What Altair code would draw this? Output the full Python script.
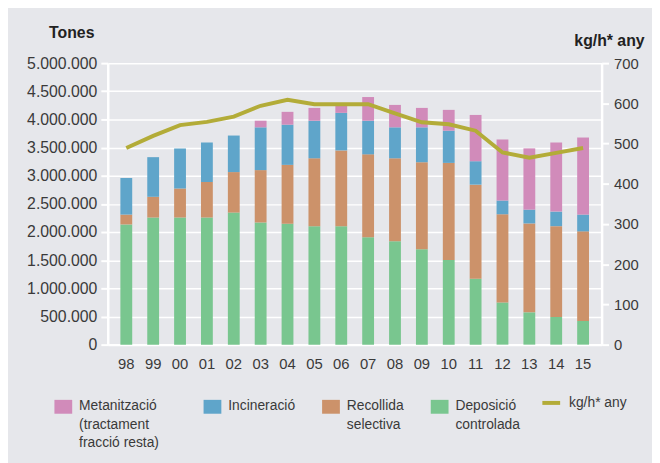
import altair as alt
import pandas as pd

years = ["98", "99", "00", "01", "02", "03", "04", "05", "06", "07", "08", "09",
         "10", "11", "12", "13", "14", "15"]
deposicio = [2135000, 2258000, 2258000, 2258000, 2346000, 2170000, 2147000, 2105000, 2105000,
             1907000, 1837000, 1696000, 1503000, 1170000, 749000, 574000, 491000, 420000]
recollida = [175000, 368000, 514000, 632000, 719000, 930000, 1046000, 1205000, 1345000,
             1473000, 1473000, 1544000, 1725000, 1672000, 1567000, 1579000, 1614000, 1592000]
incineracio = [650000, 704000, 714000, 700000, 649000, 760000, 714000, 667000, 667000,
               597000, 550000, 620000, 572000, 416000, 244000, 245000, 258000, 298000]
metanitzacio = [0, 0, 0, 0, 0, 117000, 228000, 228000, 140000,
                421000, 398000, 345000, 370000, 822000, 1084000, 1088000, 1227000, 1369000]
kg_hab = [489, 519, 546, 554, 567, 594, 609, 598, 598, 598, 575, 553, 548, 532, 478, 465, 477, 489]

cats_low = ["Incineració", "Recollida selectiva", "Deposició controlada"]
colors_low = ["#5fa5ca", "#cc926a", "#79c68f"]
cat_top = "Metanització"
color_top = "#d18bba"
line_name = "kg/h* any"
line_color = "#b3ac38"

series = {
    "Deposició controlada": deposicio,
    "Recollida selectiva": recollida,
    "Incineració": incineracio,
    "Metanització": metanitzacio,
}
stack_order = {"Deposició controlada": 0, "Recollida selectiva": 1, "Incineració": 2, "Metanització": 3}
rows = []
for cat, vals in series.items():
    for y, v in zip(years, vals):
        rows.append({"any": y, "cat": cat, "tones": v, "ord": stack_order[cat]})
bars_df = pd.DataFrame(rows)
line_df = pd.DataFrame({"any": years, "kg": kg_hab, "s": [line_name] * len(years)})

FONT = "Liberation Sans"
TXT = "#3a3a3a"
LEG_FS = 14

xenc = alt.X("any:N", sort=years, title=None,
             scale=alt.Scale(paddingInner=0.56, paddingOuter=0.47),
             axis=alt.Axis(labelAngle=0, ticks=False, labelPadding=12, domainColor="white",
                           domainWidth=2.5, labelFontSize=15, labelColor=TXT, labelFont=FONT))

yaxis = alt.Axis(values=list(range(0, 5000001, 500000)), title="Tones",
                 titleAngle=0, titleAlign="right", titleBaseline="middle",
                 titleX=-14, titleY=-31, titleFontSize=16, titleFontWeight="bold",
                 titleColor="#222222", titleFont=FONT,
                 labelExpr="replace(format(datum.value, ','), regexp(',', 'g'), '.')",
                 labelFontSize=16, labelColor=TXT, labelFont=FONT, labelPadding=4,
                 domainColor="white", domainWidth=2.5, tickColor="white", tickWidth=2,
                 tickSize=7, grid=True, gridColor="white", gridWidth=1.5)
yscale = alt.Scale(domain=[0, 5000000], nice=False)

label_expr = ("datum.label == 'Metanització' ? ['Metanització', '(tractament', 'fracció resta)'] : "
              "datum.label == 'Recollida selectiva' ? ['Recollida', 'selectiva', ''] : "
              "datum.label == 'Deposició controlada' ? ['Deposició', 'controlada', ''] : "
              "[datum.label, '', '']")


def leg(x, y, pad=27):
    return alt.Legend(title=None, orient="none", legendX=x, legendY=y,
                      direction="horizontal",
                      symbolType="M-1,0.1H1V1.66H-1Z",
                      symbolSize=324, symbolStrokeWidth=0, symbolOpacity=1,
                      labelExpr=label_expr, labelFontSize=LEG_FS, labelColor=TXT,
                      labelFont=FONT, labelBaseline="top", labelOffset=7,
                      columnPadding=pad, labelLimit=300)


bars_low = alt.Chart(bars_df).transform_filter("datum.ord < 3").mark_bar().encode(
    x=xenc,
    y=alt.Y("tones:Q", stack="zero", scale=yscale, axis=yaxis, title="Tones"),
    color=alt.Color("cat:N", scale=alt.Scale(domain=cats_low, range=colors_low),
                    legend=leg(97, 331)),
    order=alt.Order("ord:Q", sort="ascending"),
)

bars_top = alt.Chart(bars_df).transform_calculate(
    lower="datum.ord < 3 ? datum.tones : 0"
).transform_joinaggregate(
    base="sum(lower)", groupby=["any"]
).transform_filter(
    "datum.ord == 3"
).transform_calculate(
    top="datum.base + datum.tones"
).mark_bar().encode(
    x=xenc,
    y=alt.Y("base:Q", scale=yscale, axis=yaxis, title="Tones"),
    y2="top:Q",
    color=alt.Color("cat:N", scale=alt.Scale(domain=[cat_top], range=[color_top]),
                    legend=leg(-54, 331)),
)

bars = alt.layer(bars_low, bars_top).resolve_scale(color="independent")

line = alt.Chart(line_df).mark_line(strokeWidth=4).encode(
    x=xenc,
    y=alt.Y("kg:Q", scale=alt.Scale(domain=[0, 700], nice=False),
            axis=alt.Axis(orient="right", values=list(range(0, 701, 100)), title=line_name,
                          titleAngle=0, titleAlign="right", titleBaseline="middle",
                          titleX=43, titleY=-23, titleFontSize=16, titleFontWeight="bold",
                          titleColor="#222222", titleFont=FONT,
                          labelFontSize=15, labelColor=TXT, labelFont=FONT, labelPadding=5,
                          domainColor="white", domainWidth=2.5, tickColor="white", tickWidth=2,
                          tickSize=7, grid=False)),
    stroke=alt.Stroke("s:N", scale=alt.Scale(domain=[line_name], range=[line_color]),
                      legend=alt.Legend(title=None, orient="none", legendX=438, legendY=333,
                                        symbolType="stroke", symbolStrokeWidth=4, symbolSize=324,
                                        labelFontSize=LEG_FS, labelColor=TXT, labelFont=FONT,
                                        labelBaseline="middle", labelOffset=7)),
)

chart = alt.layer(bars, line).resolve_scale(y="independent").properties(
    width=500, height=285,
    autosize=alt.AutoSizeParams(type="none"),
    padding={"left": 101, "top": 53, "right": 51, "bottom": 117},
    background="#e6e7eb",
).configure_view(strokeWidth=0).configure(style={"guide-label": {"lineHeight": 19}})

chart.save("out.html", embed_options={"renderer": "svg", "actions": False})
